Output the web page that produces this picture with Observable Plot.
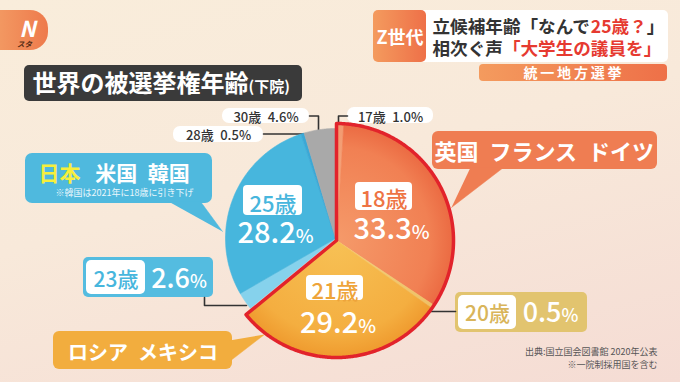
<!DOCTYPE html>
<html><head><meta charset="utf-8">
<script src="https://cdn.jsdelivr.net/npm/d3@7"></script>
<script src="https://cdn.jsdelivr.net/npm/@observablehq/plot@0.6"></script>
<style>
html,body{margin:0;padding:0;width:680px;height:382px;overflow:hidden;}
body{background:linear-gradient(165deg,#f9eddb 0%,#f8e9da 45%,#f5dcd4 100%);font-family:'Noto Sans CJK JP',sans-serif;}
#chart svg{display:block;}
</style></head><body><div id="chart"></div>
<script>
// ---- data ----
const ages = ["17歳","18歳","20歳","21歳","23歳","25歳","28歳","30歳"];
const shares = [1.0, 33.3, 0.5, 29.2, 2.6, 28.2, 0.5, 4.6];
const sliceColors = ["url(#g17)","url(#g18)","url(#g20)","url(#g21)","#86d2ec","#47b6dd","#3ba8d6","#a9a9a9"];
const highlighted = [true, true, true, true, false, false, false, false];
const groupOrange = "英国\u2002フランス\u2002ドイツ";
const groupYellow = "ロシア\u2002メキシコ";
const groupBlueA = "日本";
const groupBlueB = "米国\u2002韓国";
const groupBlueNote = "※韓国は2021年に18歳に引き下げ";
const titleMain = "世界の被選挙権年齢";
const titleSub = "(下院)";
const headTag = "Z世代";
const head1 = [["立候補年齢「なんで","#333"],["25歳？","#e63a30"],["」","#333"]];
const head2 = [["相次ぐ声","#333"],["「大学生の議員を」","#e63a30"]];
const headBar = "統一地方選挙";
const sources = ["出典:国立国会図書館 2020年公表", "※一院制採用国を含む"];

// ---- layout (not data) ----
const PIE = {cx: 335, cy: 238, r: 110, cxH: 336, cyH: 240, rH: 117};
const FONT = "'Noto Sans CJK JP', sans-serif";

const table = ages.map((age, i) => ({age, share: shares[i], color: sliceColors[i], hi: highlighted[i], label: shares[i].toFixed(1) + "%"}));
const byAge = Object.fromEntries(table.map(d => [d.age, d]));
const arcs = d3.pie().sort(null).value(d => d.share)(table);

function arcPoints(a0, a1, cx, cy, r) {
  const n = Math.max(2, Math.ceil((a1 - a0) / 0.01));
  const pts = [{x: cx, y: cy}];
  for (let i = 0; i <= n; i++) {
    const a = a0 + (a1 - a0) * i / n;
    pts.push({x: cx + r * Math.sin(a), y: cy - r * Math.cos(a)});
  }
  pts.push({x: cx, y: cy});
  return pts;
}
const sliceMarks = arcs.map(a => {
  const hi = a.data.hi;
  const pts = arcPoints(a.startAngle, a.endAngle, hi ? PIE.cxH : PIE.cx, hi ? PIE.cyH : PIE.cy, hi ? PIE.rH : PIE.r);
  return Plot.line(pts, {x: "x", y: "y", fill: a.data.color, stroke: a.data.color, strokeWidth: 0.6});
});
const hiArcs = arcs.filter(a => a.data.hi);
const outline = arcPoints(hiArcs[0].startAngle, hiArcs[hiArcs.length - 1].endAngle, PIE.cxH, PIE.cyH, PIE.rH);

// text measuring
const ctx = document.createElement("canvas").getContext("2d");
function measure(t, size, weight) { ctx.font = `${weight} ${size}px ${FONT}`; return ctx.measureText(t).width; }
function run(parts, x, y, anchor, weight) {
  const w = parts.map(([t, s]) => measure(t, s, weight));
  const total = d3.sum(w);
  let x0 = anchor === "middle" ? x - total / 2 : anchor === "end" ? x - total : x;
  return parts.map(([t, s, f], i) => { const r = {text: t, size: s, fill: f, x: x0, y}; x0 += w[i]; return r; });
}

// boxes, drawn in this order
const boxes = [
  {x1: -20, x2: 48, y1: 10, y2: 50, fill: "url(#gLogo)", rx: 18},
  {x1: 24, x2: 302, y1: 65, y2: 101, fill: "#3a3a3a", rx: 5},
  {x1: 418, x2: 668, y1: 10, y2: 62, fill: "#ffffff", rx: 5},
  {x1: 373, x2: 426, y1: 10, y2: 62, fill: "url(#gHead)", rx: 5},
  {x1: 479, x2: 667, y1: 64, y2: 81, fill: "url(#gHead)", rx: 4},
  {x1: 222, x2: 309, y1: 108, y2: 123, fill: "#ffffff", rx: 7},
  {x1: 173, x2: 263, y1: 126, y2: 142, fill: "#ffffff", rx: 7},
  {x1: 347, x2: 433, y1: 107, y2: 123, fill: "#ffffff", rx: 7},
  {x1: 25, x2: 212, y1: 153, y2: 203, fill: "#4fb9de", rx: 7},
  {x1: 432, x2: 657, y1: 131, y2: 169, fill: "#ef7d52", rx: 6},
  {x1: 53, x2: 232, y1: 331, y2: 369, fill: "#f2ad3e", rx: 6},
  {x1: 83, x2: 213, y1: 257, y2: 297, fill: "#54bce0", rx: 5},
  {x1: 86, x2: 145, y1: 260, y2: 294, fill: "#ffffff", rx: 5},
  {x1: 455, x2: 587, y1: 292, y2: 332, fill: "#e2c46f", rx: 5},
  {x1: 458, x2: 516, y1: 295, y2: 329, fill: "#ffffff", rx: 5}
];
const innerBoxes = [
  {x1: 355, x2: 412, y1: 182, y2: 210},
  {x1: 243, x2: 302, y1: 185, y2: 215},
  {x1: 306, x2: 363, y1: 275, y2: 300}
];
const pointers = [
  {k: "jp", pts: [[168, 201], [200, 201], [222, 231]], fill: "#4fb9de"},
  {k: "eu", pts: [[470, 167], [503, 167], [451, 207]], fill: "#ef7d52"},
  {k: "ru", pts: [[229, 340], [229, 361], [264, 334]], fill: "#f2ad3e"}
].flatMap(p => p.pts.map(([x, y]) => ({k: p.k, x, y, fill: p.fill})));
const leaders = [
  {k: "30", pts: [[309, 115.5], [318, 115.5], [318, 132]]},
  {k: "28", pts: [[263, 133.5], [303, 133.5]]},
  {k: "17", pts: [[347, 115.5], [338, 115.5], [338, 126]]},
  {k: "23", pts: [[204, 297], [204, 305], [246, 305]]},
  {k: "20", pts: [[429, 311], [455, 311]]}
].flatMap(p => p.pts.map(([x, y]) => ({k: p.k, x, y})));

// text rows
const bold = [
  ...run([[titleMain, 24, "#fff"], [titleSub, 15, "#fff"]], 32, 91.5, "start", "bold"),
  ...run([[headTag, 18, "#fff"]], 399.5, 43, "middle", "bold"),
  ...run(head1.map(([t, c]) => [t, 17.6, c]), 432, 32, "start", "bold"),
  ...run(head2.map(([t, c]) => [t, 17.6, c]), 432, 54, "start", "bold"),
  ...run([[headBar.split("").join("\u2009"), 14, "#fff"]], 572, 77.5, "middle", "bold"),
  ...run([[groupBlueA, 21, "#f6ef3c"], ["\u2002\u2009", 21, "#fff"], [groupBlueB, 21, "#fff"]], 38, 180, "start", "bold"),
  ...run([[groupOrange, 22, "#fff"]], 544, 159.5, "middle", "bold"),
  ...run([[groupYellow, 20, "#fff"]], 142.5, 359, "middle", "bold")
];
const medium = [
  ...run([["17歳", 13, "#333"], ["\u2002" + byAge["17歳"].label, 13, "#333"]], 390, 121, "middle", "500"),
  ...run([["30歳", 13, "#333"], ["\u2002" + byAge["30歳"].label, 13, "#333"]], 265.5, 121, "middle", "500"),
  ...run([["28歳", 13, "#333"], ["\u2002" + byAge["28歳"].label, 13, "#333"]], 218, 139.5, "middle", "500"),
  ...run([["18歳", 22, "#ee7444"]], 383.5, 206, "middle", "500"),
  ...run([["25歳", 22, "#47b6dd"]], 272.5, 211, "middle", "500"),
  ...run([["21歳", 22, "#eea43a"]], 334.5, 298, "middle", "500"),
  ...run([["23歳", 21, "#47b6dd"]], 115.5, 286, "middle", "500"),
  ...run([["20歳", 21, "#d9b55a"]], 487, 320.5, "middle", "500"),
  ...run([[byAge["18歳"].label.slice(0, -1), 29, "#fff"], ["%", 19, "#fff"]], 391, 238, "middle", "500"),
  ...run([[byAge["25歳"].label.slice(0, -1), 29, "#fff"], ["%", 19, "#fff"]], 275, 242, "middle", "500"),
  ...run([[byAge["21歳"].label.slice(0, -1), 29, "#fff"], ["%", 19, "#fff"]], 337.5, 332, "middle", "500"),
  ...run([[byAge["23歳"].label.slice(0, -1), 27, "#fff"], ["%", 18, "#fff"]], 178.5, 287, "middle", "500"),
  ...run([[byAge["20歳"].label.slice(0, -1), 27, "#fff"], ["%", 18, "#fff"]], 550, 321, "middle", "500")
];
const small = [
  {text: groupBlueNote, size: 9, fill: "#eaf7fc", x: 55, y: 195, anchor: "start"},
  {text: sources[0], size: 9, fill: "#555", x: 657, y: 354, anchor: "end"},
  {text: sources[1], size: 9, fill: "#555", x: 657, y: 367, anchor: "end"}
];

function defs(index, scales) {
  const cx = scales.x(PIE.cxH), cy = scales.y(PIE.cyH);
  const g = d3.create("svg:g");
  const d = g.append("defs");
  const rad = (id, stops) => {
    const gr = d.append("radialGradient").attr("id", id).attr("gradientUnits", "userSpaceOnUse")
      .attr("cx", cx).attr("cy", cy).attr("r", PIE.rH);
    stops.forEach(([o, c]) => gr.append("stop").attr("offset", o).attr("stop-color", c));
  };
  rad("g18", [[0, "#f59a6a"], [0.8, "#f18053"], [1, "#eb6a42"]]);
  rad("g21", [[0, "#f7c155"], [0.8, "#f4ae40"], [1, "#ef9a2e"]]);
  rad("g17", [[0, "#f7b08a"], [1, "#f29a70"]]);
  rad("g20", [[0, "#f3d27a"], [1, "#eec066"]]);
  const lin = (id, stops) => {
    const gr = d.append("linearGradient").attr("id", id).attr("x1", 0).attr("x2", 1).attr("y1", 0).attr("y2", 0);
    stops.forEach(([o, c]) => gr.append("stop").attr("offset", o).attr("stop-color", c));
  };
  lin("gHead", [[0, "#f49b5e"], [1, "#ee7048"]]);
  lin("gLogo", [[0, "#f4a46a"], [1, "#ee7a4c"]]);
  return g.node();
}

const chart = Plot.plot({
  width: 680, height: 382, margin: 0,
  x: {domain: [0, 680], range: [0, 680], axis: null},
  y: {domain: [0, 382], range: [0, 382], axis: null},
  style: {background: "transparent", fontFamily: FONT, overflow: "visible"},
  marks: [
    defs,
    ...boxes.map(b => Plot.rect([b], {x1: "x1", x2: "x2", y1: "y1", y2: "y2", fill: b.fill, rx: b.rx})),
    Plot.line(pointers, {x: "x", y: "y", z: "k", fill: "fill", stroke: "fill", strokeWidth: 0.5}),
    Plot.line(leaders, {x: "x", y: "y", z: "k", stroke: "#333", strokeWidth: 1.6}),
    ...sliceMarks,
    Plot.line(outline, {x: "x", y: "y", stroke: "#e2232b", strokeWidth: 3.5, strokeLinejoin: "round"}),
    Plot.rect(innerBoxes, {x1: "x1", x2: "x2", y1: "y1", y2: "y2", fill: "#fff", rx: 4}),
    Plot.text([{t: "N"}], {x: () => 27, y: () => 36, text: "t", fontSize: 22, fill: "#fff", fontWeight: "bold", fontStyle: "italic", textAnchor: "middle", lineAnchor: "bottom"}),
    Plot.text([{t: "スタ"}], {x: () => 24, y: () => 46, text: "t", fontSize: 7.5, fill: "#5a2e16", fontWeight: "bold", fontStyle: "italic", textAnchor: "middle", lineAnchor: "bottom"}),
    Plot.text(bold, {x: "x", y: "y", text: "text", fontSize: "size", fill: "fill", textAnchor: "start", lineAnchor: "bottom", fontWeight: "bold"}),
    Plot.text(medium, {x: "x", y: "y", text: "text", fontSize: "size", fill: "fill", textAnchor: "start", lineAnchor: "bottom", fontWeight: "500"}),
    Plot.text(small.filter(d => d.anchor === "start"), {x: "x", y: "y", text: "text", fontSize: "size", fill: "fill", textAnchor: "start", lineAnchor: "bottom"}),
    Plot.text(small.filter(d => d.anchor === "end"), {x: "x", y: "y", text: "text", fontSize: "size", fill: "fill", textAnchor: "end", lineAnchor: "bottom"})
  ]
});
document.getElementById("chart").append(chart);
</script>
</body></html>
